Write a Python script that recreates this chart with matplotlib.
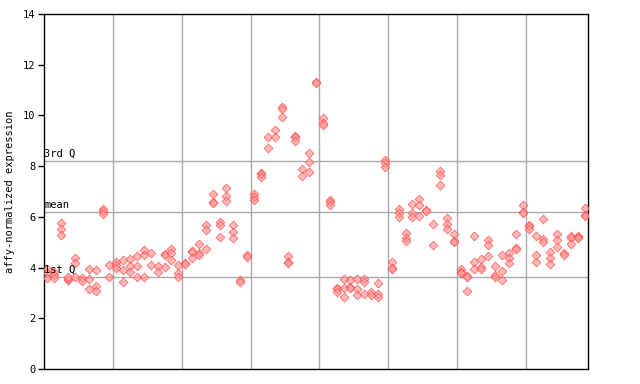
import matplotlib
matplotlib.use("Agg")
import matplotlib.pyplot as plt

# expression values per sample (replicates)
samples = [
    [3.94, 3.77, 3.57], [3.84, 3.72, 3.58], [5.77, 5.51, 5.27], [3.52, 3.55, 3.64],
    [4.37, 4.17, 3.62], [3.6, 3.48], [3.93, 3.54, 3.14], [3.9, 3.27, 3.09],
    [6.3, 6.25, 6.11], [4.09, 3.64],
    [4.23, 4.1, 3.97], [4.3, 3.9, 3.44], [4.33, 4.06, 3.81], [4.46, 4.06, 3.64],
    [4.69, 4.48, 3.64], [4.56, 4.09], [4.06, 3.81], [4.52, 4.48, 4.01],
    [4.72, 4.56, 4.3], [4.09, 3.8, 3.64],
    [4.2, 4.15], [4.65, 4.6, 4.37], [4.92, 4.56, 4.48], [5.67, 5.48, 4.72],
    [6.89, 6.58, 6.54], [5.81, 5.67, 5.22], [7.13, 6.82, 6.61], [5.67, 5.39, 5.15],
    [3.51, 3.44], [4.5, 4.4],
    [6.89, 6.8, 6.66], [7.74, 7.7, 7.56], [9.14, 8.7], [9.43, 9.14],
    [10.32, 10.24, 9.92], [4.46, 4.21, 4.17], [9.18, 9.14, 9.0], [7.88, 7.61],
    [8.5, 8.15, 7.76], [11.31, 11.27],
    [9.89, 9.72, 9.62], [6.66, 6.57, 6.47], [3.2, 3.16, 3.05], [3.54, 3.18, 2.83],
    [3.51, 3.23, 3.19], [3.54, 3.14, 2.92], [3.54, 3.44, 2.94], [3.05, 2.92],
    [3.38, 2.96, 2.83], [8.23, 8.11, 7.95],
    [4.21, 3.98, 3.94], [6.3, 6.16, 5.98], [5.35, 5.15, 5.06], [6.49, 6.14, 6.01],
    [6.69, 6.47, 6.03], [6.26, 6.22], [5.7, 4.89], [7.81, 7.65, 7.26],
    [5.94, 5.72, 5.51], [5.32, 5.04, 5.0],
    [3.93, 3.82, 3.78], [3.66, 3.62, 3.06], [5.24, 4.21, 3.93], [4.33, 4.01, 3.93],
    [5.09, 4.89, 4.46], [4.06, 3.71, 3.64], [4.5, 3.88, 3.51], [4.56, 4.37, 4.2],
    [5.32, 4.78, 4.74], [6.47, 6.18, 6.14],
    [5.67, 5.63, 5.52], [5.24, 4.5, 4.21], [5.9, 5.11, 5.02], [4.61, 4.37, 4.14],
    [5.32, 5.09, 4.8], [4.59, 4.5], [5.24, 5.15, 4.93], [5.26, 5.22, 5.18],
    [6.34, 6.07, 6.03],
]
group_size = 10
first_q = 3.63
mean_val = 6.21
third_q = 8.21
yticks = [0, 2, 4, 6, 8, 10, 12, 14]

mono = "DejaVu Sans Mono"

fig = plt.figure(figsize=(6.4, 3.84), dpi=100)
ax = fig.add_axes([44 / 640, 15 / 384, 544 / 640, 355 / 384])

xs, ys = [], []
for i, vals in enumerate(samples):
    for v in vals:
        xs.append(i)
        ys.append(v)
# light diamonds with a red rim, overlapping ones come out darker
ax.scatter(xs, ys, marker="D", s=20, facecolor="#ff9a9a", edgecolor="#ff4040",
           linewidths=0.6, alpha=0.7, zorder=3)

n = len(samples)
for g in range(1, (n + group_size - 1) // group_size):
    ax.axvline(g * group_size - 0.5, color="#aaaaaa", lw=1, zorder=1)
for val, lab in [(first_q, "1st Q"), (mean_val, "mean"), (third_q, "3rd Q")]:
    ax.axhline(val, color="#aaaaaa", lw=1, zorder=1)
    ax.text(-0.45, val + 0.08, lab, family=mono, fontsize=7.5, ha="left",
            va="bottom", zorder=4)

ax.set_xlim(-0.5, n - 0.5)
ax.set_ylim(0, 14)
ax.set_xticks([])
ax.set_yticks(yticks)
ax.set_yticklabels([str(t) for t in yticks], family=mono, fontsize=7.5)
ax.tick_params(axis="y", direction="out", length=4, width=1, pad=2)
ax.set_ylabel("affy-normalized expression", family=mono, fontsize=7.5, labelpad=6)
for s in ax.spines.values():
    s.set_linewidth(1)

fig.savefig("out.png", dpi=100)
